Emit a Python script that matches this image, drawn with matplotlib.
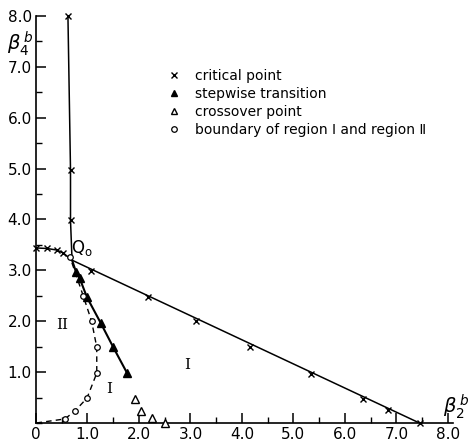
import matplotlib
matplotlib.use("Agg")
import matplotlib.pyplot as plt
from matplotlib.lines import Line2D
from matplotlib.ticker import MultipleLocator

# Q0 : meeting point of the three phase lines
q0_x, q0_y = 0.70, 3.20

# critical points (x)
crit_vert_x = [0.62, 0.67, 0.67]
crit_vert_y = [8.00, 4.97, 3.98]
crit_top_x = [0.0, 0.21, 0.40, 0.53]
crit_top_y = [3.44, 3.43, 3.40, 3.34]
crit_slope_x = [1.07, 2.17, 3.10, 4.16, 5.34, 6.35, 6.83, 7.45]
crit_slope_y = [2.98, 2.47, 2.00, 1.49, 0.97, 0.48, 0.25, 0.0]

# stepwise transition (filled triangles)
step_x = [0.78, 0.85, 0.99, 1.26, 1.50, 1.77]
step_y = [2.96, 2.84, 2.47, 1.96, 1.49, 0.98]

# crossover points (open triangles)
cross_x = [1.92, 2.04, 2.26, 2.50]
cross_y = [0.48, 0.24, 0.10, 0.0]

# boundary of region I and region II (open circles, dashed)
bound_x = [0.66, 0.92, 1.08, 1.18, 1.18, 0.99, 0.76, 0.56]
bound_y = [3.26, 2.49, 2.00, 1.49, 0.98, 0.49, 0.24, 0.08]

x_ticks = [0, 1, 2, 3, 4, 5, 6, 7, 8]
x_ticklabels = ["0", "1.0", "2.0", "3.0", "4.0", "5.0", "6.0", "7.0", "8.0"]
y_ticks = [1, 2, 3, 4, 5, 6, 7, 8]
y_ticklabels = ["1.0", "2.0", "3.0", "4.0", "5.0", "6.0", "7.0", "8.0"]

fig = plt.figure(figsize=(4.69, 4.43), dpi=100)
ax = fig.add_axes([0.0768, 0.0451, 0.889, 0.919])

# lines
ax.plot(crit_vert_x + [q0_x], crit_vert_y + [q0_y], color="black", lw=1.1)
ax.plot(crit_top_x + [q0_x], crit_top_y + [q0_y], color="black", lw=1.1)
ax.plot([q0_x, crit_slope_x[-1]], [q0_y, crit_slope_y[-1]], color="black", lw=1.1)
ax.plot([q0_x] + step_x, [q0_y] + step_y, color="black", lw=1.5)
ax.plot([q0_x] + bound_x + [0.0], [q0_y] + bound_y + [0.0], color="black", lw=1.0,
        dashes=(4, 3))

# markers
mk = dict(ls="none", color="black", clip_on=False, zorder=3)
ax.plot(crit_vert_x + crit_top_x + crit_slope_x, crit_vert_y + crit_top_y + crit_slope_y,
        marker="x", ms=5, mew=1.0, **mk)
ax.plot(step_x, step_y, marker="^", ms=6, **mk)
ax.plot(cross_x, cross_y, marker="^", ms=6, mfc="white", mew=1.0, **mk)
ax.plot(bound_x, bound_y, marker="o", ms=4, mfc="white", mew=0.9, **mk)

ax.set_xlim(0, 8.1)
ax.set_ylim(0, 8.0)
for s in ["top", "right"]:
    ax.spines[s].set_visible(False)
for s in ["left", "bottom"]:
    ax.spines[s].set_linewidth(1.2)
ax.set_xticks(x_ticks)
ax.set_xticklabels(x_ticklabels)
ax.set_yticks(y_ticks)
ax.set_yticklabels(y_ticklabels)
ax.xaxis.set_minor_locator(MultipleLocator(0.5))
ax.yaxis.set_minor_locator(MultipleLocator(0.5))
ax.tick_params(which="major", direction="in", length=7, width=1.1, labelsize=11, pad=3)
ax.tick_params(which="minor", direction="in", length=4, width=1.0)

# axis labels
ax.text(-0.31, 7.45, r"$\beta_4^{\,b}$", fontsize=14, ha="center", va="center", clip_on=False)
ax.text(8.17, 0.32, r"$\beta_2^{\,b}$", fontsize=14, ha="center", va="center", clip_on=False)

# region labels
ax.text(0.90, 3.44, r"$\mathrm{Q}_{\mathrm{o}}$", fontsize=12, ha="center", va="center")
ax.text(0.50, 1.92, "II", family="DejaVu Serif", fontsize=11, ha="center", va="center")
ax.text(1.42, 0.67, "I", family="DejaVu Serif", fontsize=11, ha="center", va="center")
ax.text(2.93, 1.14, "I", family="DejaVu Serif", fontsize=11, ha="center", va="center")

handles = [
    Line2D([], [], ls="none", marker="x", ms=4, mew=1.0, color="black"),
    Line2D([], [], ls="none", marker="^", ms=5, color="black"),
    Line2D([], [], ls="none", marker="^", ms=5, mfc="white", mew=1.0, color="black"),
    Line2D([], [], ls="none", marker="o", ms=4, mfc="white", mew=0.9, color="black"),
]
labels = ["critical point", "stepwise transition", "crossover point",
          "boundary of region \u2160 and region \u2161"]
fig.legend(handles, labels, loc="upper left", bbox_to_anchor=(0.341, 0.861),
           frameon=False, fontsize=10, borderpad=0, handlelength=1.0,
           handletextpad=1.0, labelspacing=0.3)

fig.savefig("out.png", dpi=100)
